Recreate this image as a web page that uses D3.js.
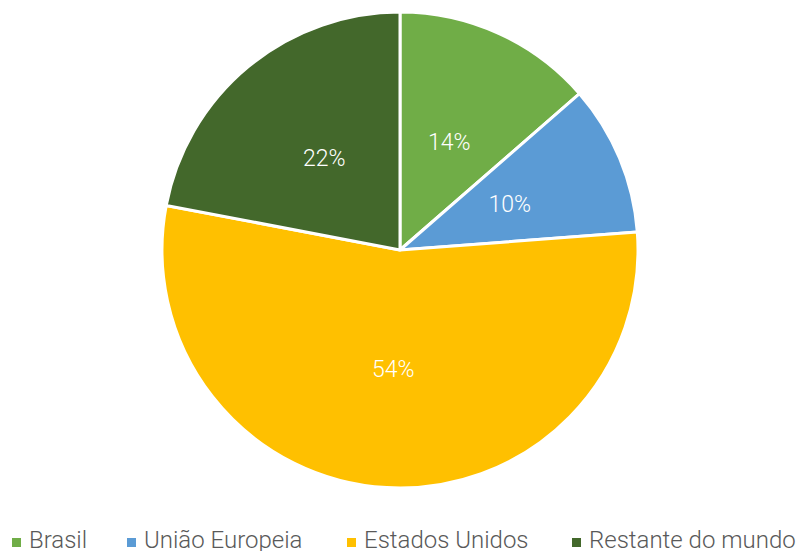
<!DOCTYPE html>
<html>
<head>
<meta charset="utf-8">
<script src="https://cdn.jsdelivr.net/npm/d3@7"></script>
<style>
  html, body { margin: 0; padding: 0; background: #fff; }
  svg { display: block; }
</style>
</head>
<body>
<svg width="803" height="551"></svg>
<script>
const categories = ['Brasil', 'União Europeia', 'Estados Unidos', 'Restante do mundo'];
// shares in % (labels are rounded)
const values = [13.6, 10.2, 54.2, 22.0];
const colors = ['#70AD47', '#5B9BD5', '#FFC000', '#43682B'];

const cx = 400, cy = 250, radius = 238;
const font = 'Roboto, "Liberation Sans", sans-serif';

const svg = d3.select('svg');

const pie = d3.pie().sort(null).value(d => d.value);
const arcs = pie(categories.map((c, i) => ({ name: c, value: values[i] })));

const arc = d3.arc().innerRadius(0).outerRadius(radius);
const labelArc = d3.arc().innerRadius(radius * 0.5).outerRadius(radius * 0.5);

const total = d3.sum(values);
const color = d3.scaleOrdinal().domain(categories).range(colors);

const g = svg.append('g').attr('transform', `translate(${cx},${cy})`);

g.selectAll('path')
  .data(arcs)
  .enter()
  .append('path')
  .attr('d', arc)
  .attr('fill', d => color(d.data.name))
  .attr('stroke', '#fff')
  .attr('stroke-width', 3)
  .attr('stroke-linejoin', 'round');

g.selectAll('text')
  .data(arcs)
  .enter()
  .append('text')
  .attr('transform', d => `translate(${labelArc.centroid(d)})`)
  .attr('text-anchor', 'middle')
  .attr('dy', '0.35em')
  .attr('fill', '#fff')
  .attr('font-family', font)
  .attr('font-weight', 300)
  .attr('font-size', 23)
  .text(d => Math.round(d.data.value / total * 100) + '%');

// legend (text sits at the bottom edge as in the original)
const legendX = [12, 127, 347, 572];
const items = svg.append('g').selectAll('g')
  .data(categories)
  .enter()
  .append('g')
  .attr('transform', (d, i) => `translate(${legendX[i]},0)`);

items.append('rect')
  .attr('x', 0)
  .attr('y', 538)
  .attr('width', 9)
  .attr('height', 9)
  .attr('fill', d => color(d));

items.append('text')
  .attr('x', 17)
  .attr('y', 548)
  .attr('fill', '#595959')
  .attr('font-family', font)
  .attr('font-weight', 300)
  .attr('font-size', 24)
  .text(d => d);
</script>
</body>
</html>
